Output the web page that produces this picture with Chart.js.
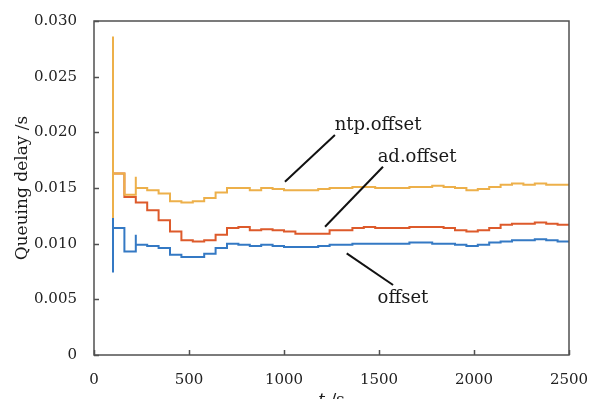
<!DOCTYPE html>
<html>
<head>
<meta charset="utf-8">
<script src="https://cdn.jsdelivr.net/npm/chart.js@4.4.1/dist/chart.umd.min.js"></script>
<style>
  html, body { margin: 0; padding: 0; background: #fff; }
</style>
</head>
<body>
<canvas id="delayChart" width="592" height="399"></canvas>
<script>
// step start times (s)
const times = [100, 160, 220, 280, 340, 400, 460, 520, 580, 640, 700, 760, 820, 880, 940,
  1000, 1060, 1120, 1180, 1240, 1300, 1360, 1420, 1480, 1540, 1600, 1660, 1720, 1780, 1840,
  1900, 1960, 2020, 2080, 2140, 2200, 2260, 2320, 2380, 2440, 2500];

// queuing delay (s)
const ntpOffset = [0.0163, 0.0144, 0.0150, 0.0148, 0.0145, 0.0138, 0.0137, 0.0138, 0.0141, 0.0146, 0.0150,
  0.0150, 0.0148, 0.0150, 0.0149, 0.0148, 0.0148, 0.0148, 0.0149, 0.0150, 0.0150, 0.0151, 0.0151,
  0.0150, 0.0150, 0.0150, 0.0151, 0.0151, 0.0152, 0.0151, 0.0150, 0.0148, 0.0149, 0.0151, 0.0153,
  0.0154, 0.0153, 0.0154, 0.0153, 0.0153, 0.0153];
const adOffset = [0.0163, 0.0142, 0.0137, 0.0130, 0.0121, 0.0111, 0.0103, 0.0102, 0.0103, 0.0108, 0.0114,
  0.0115, 0.0112, 0.0113, 0.0112, 0.0111, 0.0109, 0.0109, 0.0109, 0.0112, 0.0112, 0.0114, 0.0115,
  0.0114, 0.0114, 0.0114, 0.0115, 0.0115, 0.0115, 0.0114, 0.0112, 0.0111, 0.0112, 0.0114, 0.0117,
  0.0118, 0.0118, 0.0119, 0.0118, 0.0117, 0.0117];
const offset = [0.0114, 0.0093, 0.0099, 0.0098, 0.0096, 0.0090, 0.0088, 0.0088, 0.0091, 0.0096, 0.0100,
  0.0099, 0.0098, 0.0099, 0.0098, 0.0097, 0.0097, 0.0097, 0.0098, 0.0099, 0.0099, 0.0100, 0.0100,
  0.0100, 0.0100, 0.0100, 0.0101, 0.0101, 0.0100, 0.0100, 0.0099, 0.0098, 0.0099, 0.0101, 0.0102,
  0.0103, 0.0103, 0.0104, 0.0103, 0.0102, 0.0102];

// short vertical spikes at a step: time -> values passed through before settling
const ntpSpikes = { 100: [0.0123, 0.0286], 220: [0.0160, 0.0144] };
const adSpikes = {};
const offsetSpikes = { 100: [0.0123, 0.0074], 220: [0.0108] };

const xTicks = [0, 500, 1000, 1500, 2000, 2500];
const yTicks = [0, 0.005, 0.010, 0.015, 0.020, 0.025, 0.030];

function buildPoints(values, spikes) {
  const pts = [];
  times.forEach((t, i) => {
    (spikes[t] || []).forEach(v => pts.push({ x: t, y: v }));
    pts.push({ x: t, y: values[i] });
  });
  return pts;
}

// text labels with leader lines, in data units
const notes = [
  { text: 'ntp.offset', at: [1495, 0.02066], from: [1005, 0.01557], to: [1268, 0.01976] },
  { text: 'ad.offset', at: [1700, 0.01778], from: [1216, 0.01152], to: [1521, 0.01691] },
  { text: 'offset', at: [1626, 0.00512], from: [1330, 0.00913], to: [1574, 0.00629] }
];

const serif = '"DejaVu Serif", serif';

const framePlugin = {
  id: 'frame',
  afterDraw(chart) {
    const { ctx, chartArea: a, scales: { x, y } } = chart;
    ctx.save();
    // box
    ctx.strokeStyle = '#505050';
    ctx.lineWidth = 1.5;
    ctx.strokeRect(a.left, a.top, a.right - a.left, a.bottom - a.top);
    // inward ticks
    ctx.beginPath();
    xTicks.forEach(v => {
      const px = Math.round(x.getPixelForValue(v)) + 0.5;
      ctx.moveTo(px, a.bottom);
      ctx.lineTo(px, a.bottom - 5);
    });
    yTicks.forEach(v => {
      const py = Math.round(y.getPixelForValue(v)) + 0.5;
      ctx.moveTo(a.left, py);
      ctx.lineTo(a.left + 5, py);
    });
    ctx.stroke();

    // annotations
    ctx.strokeStyle = '#111';
    ctx.lineWidth = 2;
    ctx.fillStyle = '#1a1a1a';
    ctx.font = '18px ' + serif;
    ctx.textAlign = 'center';
    ctx.textBaseline = 'middle';
    notes.forEach(n => {
      ctx.beginPath();
      ctx.moveTo(x.getPixelForValue(n.from[0]), y.getPixelForValue(n.from[1]));
      ctx.lineTo(x.getPixelForValue(n.to[0]), y.getPixelForValue(n.to[1]));
      ctx.stroke();
      ctx.fillText(n.text, x.getPixelForValue(n.at[0]), y.getPixelForValue(n.at[1]));
    });

    // axis titles
    ctx.font = '17px ' + serif;
    ctx.save();
    ctx.translate(23, (a.top + a.bottom) / 2);
    ctx.rotate(-Math.PI / 2);
    ctx.fillText('Queuing delay /s', 0, 0);
    ctx.restore();

    ctx.textBaseline = 'alphabetic';
    ctx.textAlign = 'left';
    const cx = (a.left + a.right) / 2;
    ctx.font = 'italic 17px ' + serif;
    const tW = ctx.measureText('t').width;
    ctx.font = '17px ' + serif;
    const sW = ctx.measureText(' /s').width;
    const startX = cx - (tW + sW) / 2;
    ctx.font = 'italic 17px ' + serif;
    ctx.fillText('t', startX, 405);
    ctx.font = '17px ' + serif;
    ctx.fillText(' /s', startX + tW, 405);
    ctx.restore();
  }
};

const ctx = document.getElementById('delayChart').getContext('2d');
new Chart(ctx, {
  type: 'line',
  data: {
    datasets: [
      {
        label: 'ntp.offset',
        data: buildPoints(ntpOffset, ntpSpikes),
        borderColor: '#EDB04A',
        borderWidth: 2,
        pointRadius: 0,
        stepped: true,
        fill: false
      },
      {
        label: 'offset',
        data: buildPoints(offset, offsetSpikes),
        borderColor: '#3479C4',
        borderWidth: 2,
        pointRadius: 0,
        stepped: true,
        fill: false
      },
      {
        label: 'ad.offset',
        data: buildPoints(adOffset, adSpikes),
        borderColor: '#DD5A2B',
        borderWidth: 2,
        pointRadius: 0,
        stepped: true,
        fill: false
      }
    ]
  },
  options: {
    responsive: false,
    animation: false,
    layout: { padding: { top: 21, right: 23, left: 0, bottom: 0 } },
    plugins: {
      legend: { display: false },
      tooltip: { enabled: false }
    },
    scales: {
      x: {
        type: 'linear',
        min: 0,
        max: 2500,
        afterBuildTicks: s => { s.ticks = xTicks.map(v => ({ value: v })); },
        afterFit: s => { s.height = 44; s.paddingLeft = 0; s.paddingRight = 0; },
        grid: { display: false },
        border: { display: false },
        ticks: {
          padding: 8,
          maxRotation: 0,
          color: '#222',
          font: { family: serif, size: 15 },
          callback: v => String(v)
        }
      },
      y: {
        type: 'linear',
        min: 0,
        max: 0.03,
        afterBuildTicks: s => { s.ticks = yTicks.map(v => ({ value: v })); },
        afterFit: s => { s.width = 94; s.paddingTop = 0; s.paddingBottom = 0; },
        grid: { display: false },
        border: { display: false },
        ticks: {
          padding: 9,
          color: '#222',
          font: { family: serif, size: 15 },
          callback: v => (v === 0 ? '0' : v.toFixed(3))
        }
      }
    }
  },
  plugins: [framePlugin]
});
</script>
</body>
</html>
